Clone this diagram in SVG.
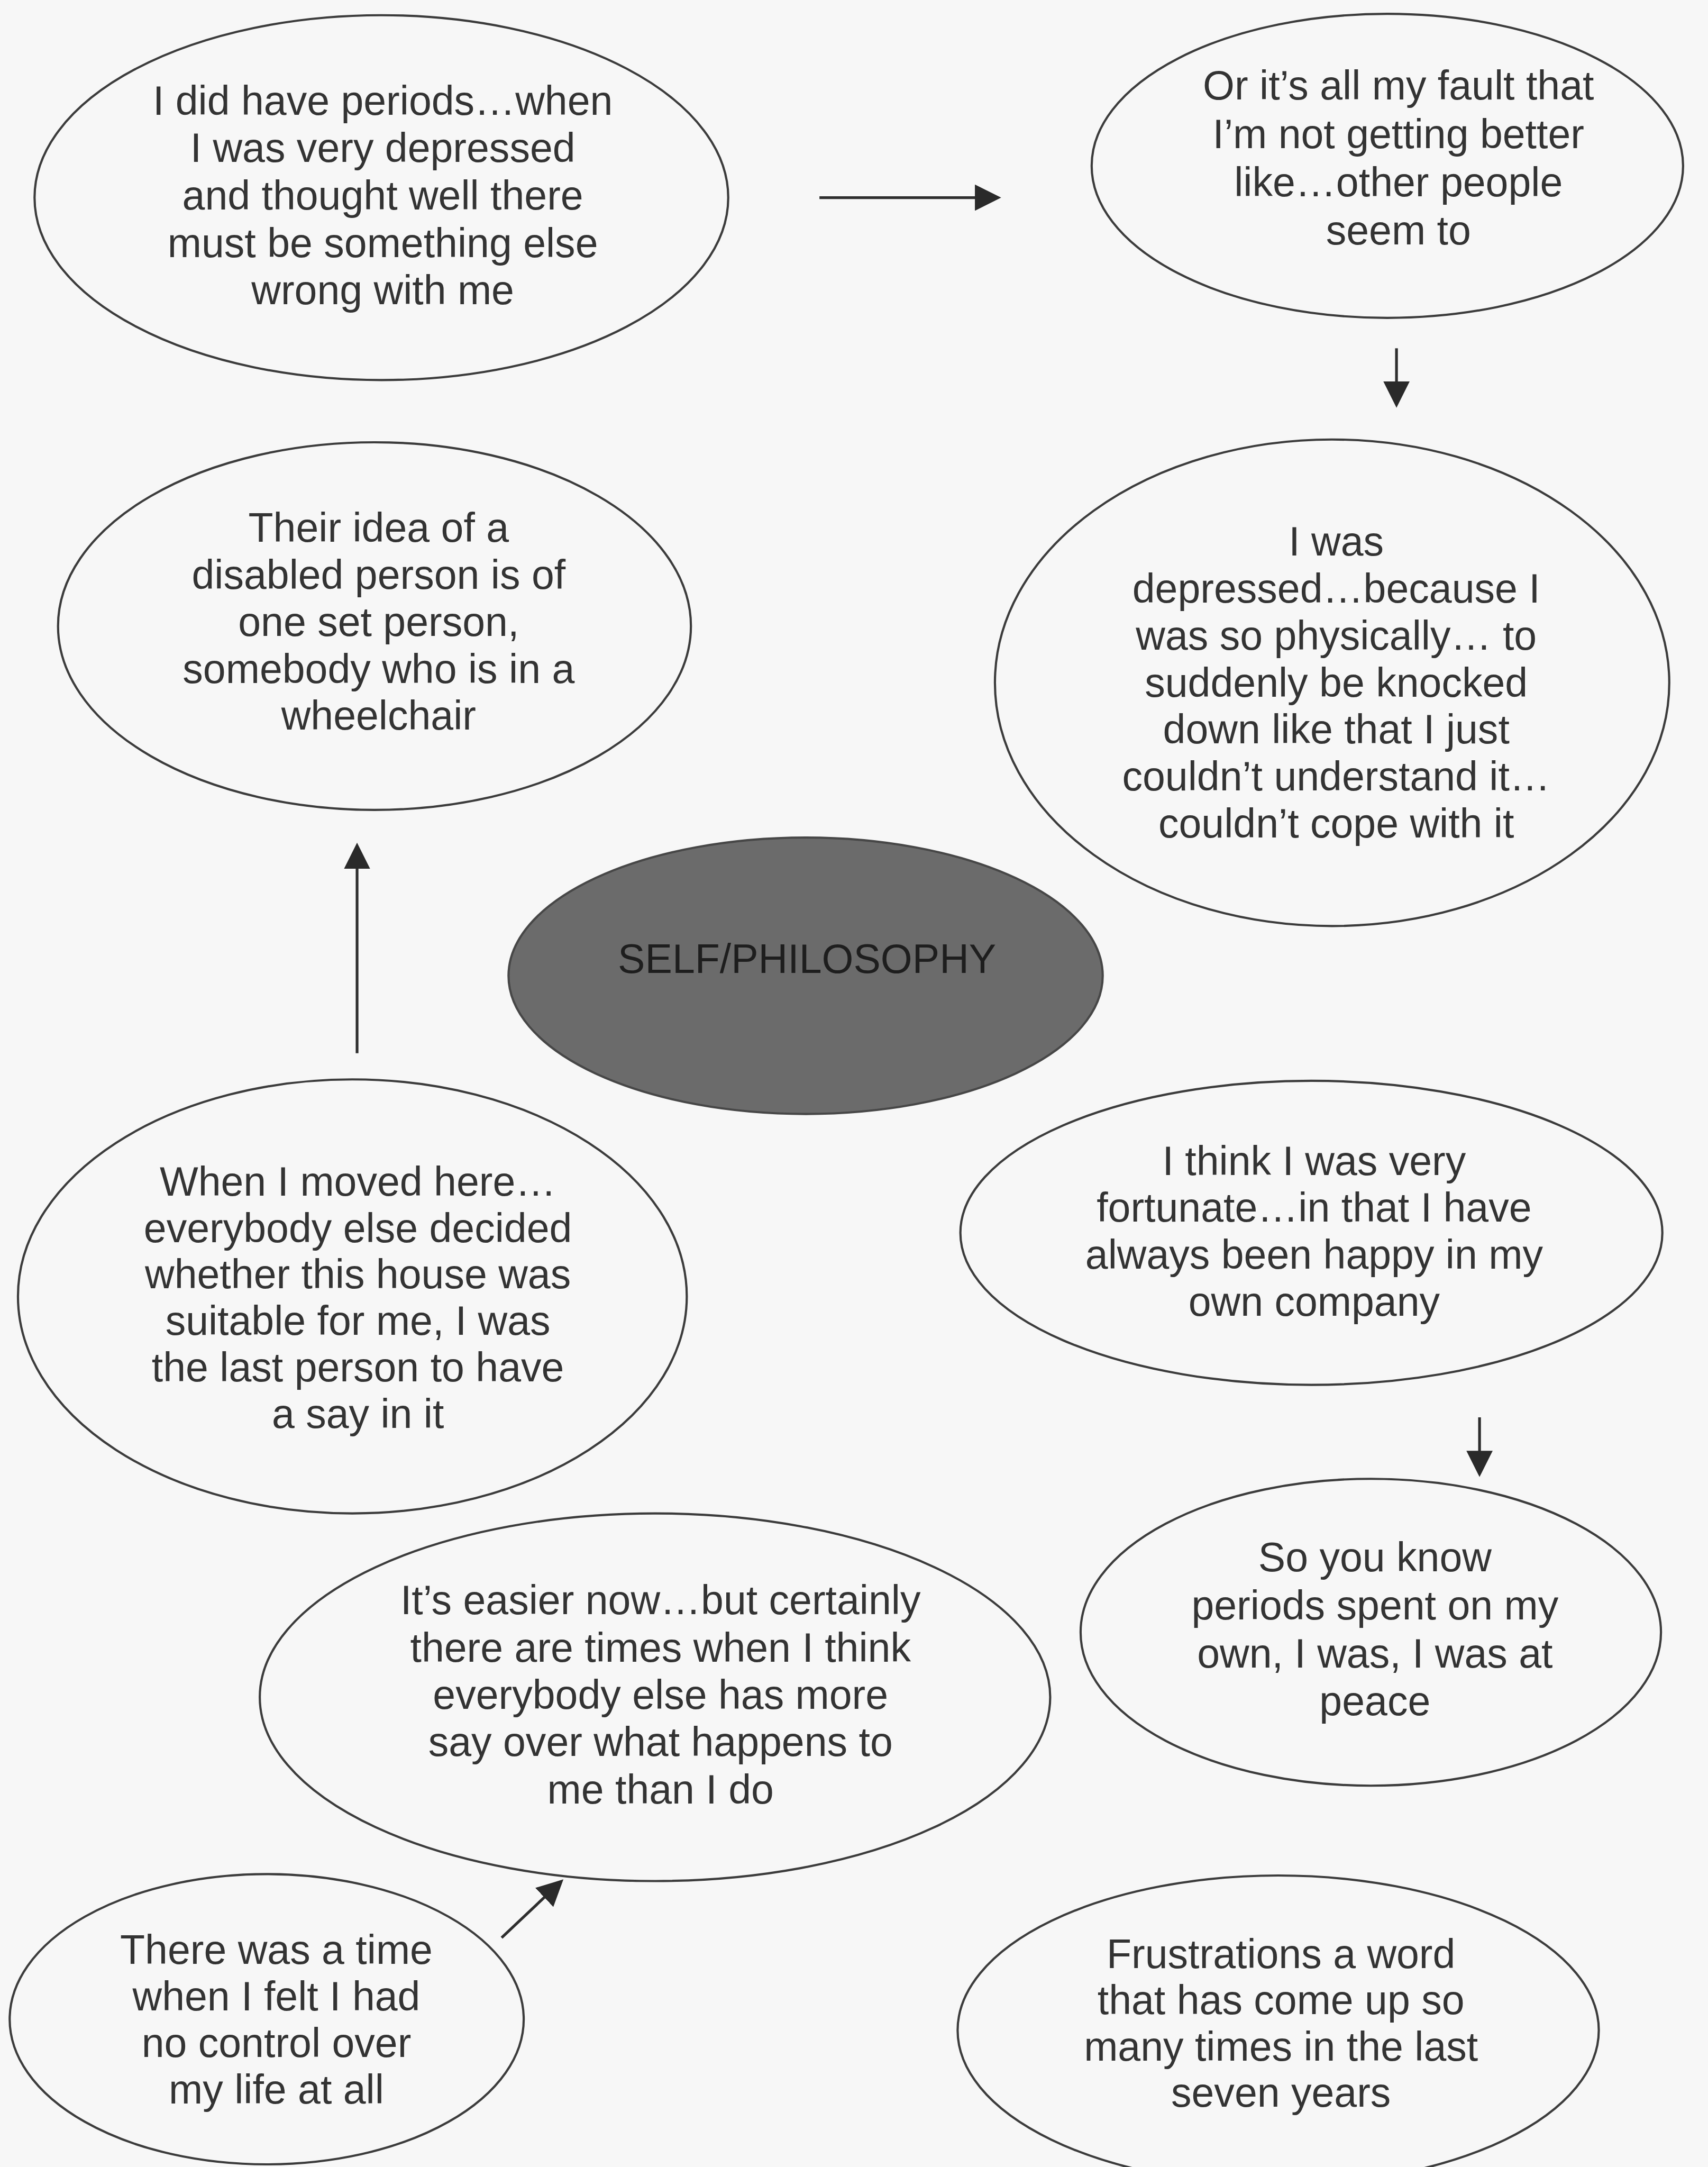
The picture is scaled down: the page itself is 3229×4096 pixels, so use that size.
<svg xmlns="http://www.w3.org/2000/svg" width="3229" height="4096" viewBox="0 0 3229 4096">
<style>
.node{fill:none;stroke:#3c3c3c;stroke-width:1.6}
.core{fill:#6b6b6b;stroke:#474747;stroke-width:1.6}
.t{font-family:"Liberation Sans",Arial,sans-serif;font-size:29.5px;fill:#333;text-anchor:middle}
.tc{fill:#1e1e1e}
.arr{stroke:#2e2e2e;stroke-width:2;fill:none;marker-end:url(#ah)}
</style>
<defs>
<marker id="ah" markerUnits="userSpaceOnUse" viewBox="0 0 19 19" markerWidth="19" markerHeight="19" refX="11" refY="9.5" orient="auto">
<path d="M0,0 L19,9.5 L0,19 z" fill="#2a2a2a"/>
</marker>
</defs>
<rect width="3229" height="4096" fill="#f7f7f7"/>
<g transform="scale(2.6124)">
<g id="n1">
<ellipse class="node" cx="276" cy="143" rx="251" ry="132"/>
<text class="t" x="277" y="83"><tspan x="277">I did have periods…when</tspan><tspan x="277" dy="34.3">I was very depressed</tspan><tspan x="277" dy="34.3">and thought well there</tspan><tspan x="277" dy="34.3">must be something else</tspan><tspan x="277" dy="34.3">wrong with me</tspan></text>
</g>
<g id="n2">
<ellipse class="node" cx="1004" cy="120" rx="214" ry="110"/>
<text class="t" x="1012" y="72"><tspan x="1012">Or it’s all my fault that</tspan><tspan x="1012" dy="35">I’m not getting better</tspan><tspan x="1012" dy="35">like…other people</tspan><tspan x="1012" dy="35">seem to</tspan></text>
</g>
<g id="n3">
<ellipse class="node" cx="271" cy="453" rx="229" ry="133"/>
<text class="t" x="274" y="392"><tspan x="274">Their idea of a</tspan><tspan x="274" dy="34">disabled person is of</tspan><tspan x="274" dy="34">one set person,</tspan><tspan x="274" dy="34">somebody who is in a</tspan><tspan x="274" dy="34">wheelchair</tspan></text>
</g>
<g id="n4">
<ellipse class="node" cx="964" cy="494" rx="244" ry="176"/>
<text class="t" x="967" y="402"><tspan x="967">I was</tspan><tspan x="967" dy="34">depressed…because I</tspan><tspan x="967" dy="34">was so physically… to</tspan><tspan x="967" dy="34">suddenly be knocked</tspan><tspan x="967" dy="34">down like that I just</tspan><tspan x="967" dy="34">couldn’t understand it…</tspan><tspan x="967" dy="34">couldn’t cope with it</tspan></text>
</g>
<g id="center">
<ellipse class="core" cx="583" cy="706" rx="215" ry="100"/>
<text class="t tc" x="584" y="704">SELF/PHILOSOPHY</text>
</g>
<g id="n5">
<ellipse class="node" cx="255" cy="938" rx="242" ry="157"/>
<text class="t" x="259" y="865"><tspan x="259">When I moved here…</tspan><tspan x="259" dy="33.6">everybody else decided</tspan><tspan x="259" dy="33.6">whether this house was</tspan><tspan x="259" dy="33.6">suitable for me, I was</tspan><tspan x="259" dy="33.6">the last person to have</tspan><tspan x="259" dy="33.6">a say in it</tspan></text>
</g>
<g id="n6">
<ellipse class="node" cx="949" cy="892" rx="254" ry="110"/>
<text class="t" x="951" y="850"><tspan x="951">I think I was very</tspan><tspan x="951" dy="34">fortunate…in that I have</tspan><tspan x="951" dy="34">always been happy in my</tspan><tspan x="951" dy="34">own company</tspan></text>
</g>
<g id="n7">
<ellipse class="node" cx="992" cy="1181" rx="210" ry="111"/>
<text class="t" x="995" y="1137"><tspan x="995">So you know</tspan><tspan x="995" dy="34.7">periods spent on my</tspan><tspan x="995" dy="34.7">own, I was, I was at</tspan><tspan x="995" dy="34.7">peace</tspan></text>
</g>
<g id="n8">
<ellipse class="node" cx="474" cy="1228" rx="286" ry="133"/>
<text class="t" x="478" y="1168"><tspan x="478">It’s easier now…but certainly</tspan><tspan x="478" dy="34.2">there are times when I think</tspan><tspan x="478" dy="34.2">everybody else has more</tspan><tspan x="478" dy="34.2">say over what happens to</tspan><tspan x="478" dy="34.2">me than I do</tspan></text>
</g>
<g id="n9">
<ellipse class="node" cx="193" cy="1461" rx="186" ry="105"/>
<text class="t" x="200" y="1421"><tspan x="200">There was a time</tspan><tspan x="200" dy="33.6">when I felt I had</tspan><tspan x="200" dy="33.6">no control over</tspan><tspan x="200" dy="33.6">my life at all</tspan></text>
</g>
<g id="n10">
<ellipse class="node" cx="925" cy="1469" rx="232" ry="112"/>
<text class="t" x="927" y="1424"><tspan x="927">Frustrations a word</tspan><tspan x="927" dy="33.4">that has come up so</tspan><tspan x="927" dy="33.4">many times in the last</tspan><tspan x="927" dy="33.4">seven years</tspan></text>
</g>
<g id="connectors">
<line class="arr" x1="593" y1="143" x2="716.5" y2="143"/>
<line class="arr" x1="1010.6" y1="252" x2="1010.6" y2="287"/>
<line class="arr" x1="258.4" y1="762" x2="258.4" y2="617.7"/>
<line class="arr" x1="1070.7" y1="1025.5" x2="1070.7" y2="1060.7"/>
<line class="arr" x1="363" y1="1402" x2="401.9" y2="1365.3"/>
</g>
</g>
</svg>
